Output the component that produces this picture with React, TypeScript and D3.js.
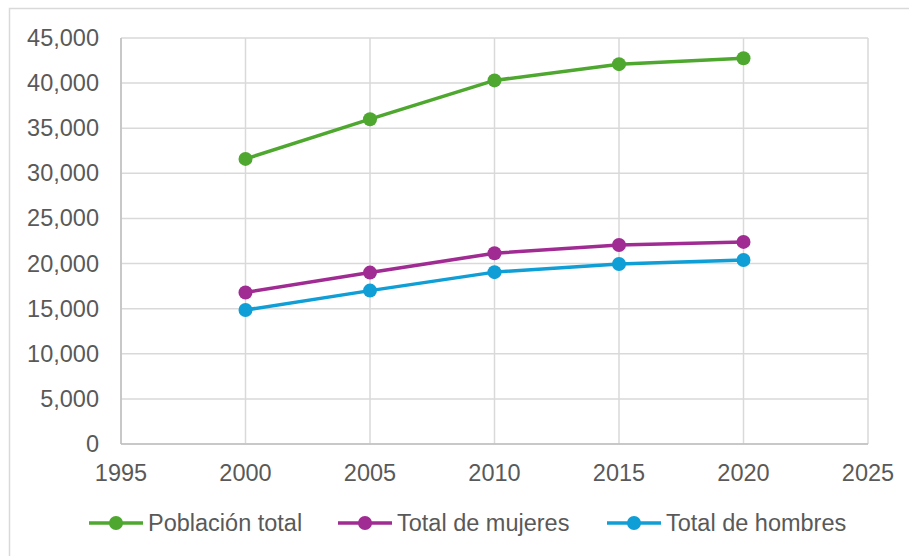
import * as d3 from "d3";

const years = [2000, 2005, 2010, 2015, 2020];
const poblacionTotal = [31600, 36000, 40300, 42100, 42750];
const totalMujeres = [16800, 19000, 21150, 22050, 22400];
const totalHombres = [14850, 17000, 19050, 19950, 20400];
const xTicks = [1995, 2000, 2005, 2010, 2015, 2020, 2025];
const yTicks = [0, 5000, 10000, 15000, 20000, 25000, 30000, 35000, 40000, 45000];

const series = [
  { name: "Población total", values: poblacionTotal, color: "#4EA72E" },
  { name: "Total de mujeres", values: totalMujeres, color: "#A02B93" },
  { name: "Total de hombres", values: totalHombres, color: "#0F9ED5" },
];

const width = 909;
const height = 556;
const margin = { top: 38, right: 41, bottom: 112, left: 121 };
const font = "'Liberation Sans', Arial, sans-serif";
const textColor = "#595959";
const fontSize = 23.5;

export default function App() {
  const boundsWidth = width - margin.left - margin.right;
  const boundsHeight = height - margin.top - margin.bottom;

  const xScale = d3.scaleLinear().domain([1995, 2025]).range([0, boundsWidth]);
  const yScale = d3.scaleLinear().domain([0, 45000]).range([boundsHeight, 0]);
  const fmt = d3.format(",");

  const line = d3
    .line<number>()
    .x((_, i) => xScale(years[i]))
    .y((d) => yScale(d));

  const legendX = [89, 338, 607];

  return (
    <svg
      width={width}
      height={height}
      style={{ position: "absolute", left: 0, top: 0, background: "white" }}
    >
      <rect x={9.5} y={8.5} width={width} height={height} fill="white" stroke="#d9d9d9" strokeWidth={1.5} />
      <g transform={`translate(${margin.left},${margin.top})`}>
        {yTicks.map((t) => (
          <line key={"gy" + t} x1={0} x2={boundsWidth} y1={yScale(t)} y2={yScale(t)} stroke="#d9d9d9" strokeWidth={1.5} />
        ))}
        {xTicks.map((t) => (
          <line key={"gx" + t} x1={xScale(t)} x2={xScale(t)} y1={0} y2={boundsHeight} stroke="#d9d9d9" strokeWidth={1.5} />
        ))}
        <line x1={0} x2={boundsWidth} y1={boundsHeight} y2={boundsHeight} stroke="#bfbfbf" strokeWidth={1.5} />
        <line x1={0} x2={0} y1={0} y2={boundsHeight} stroke="#bfbfbf" strokeWidth={1.5} />

        {yTicks.map((t) => (
          <text
            key={"ty" + t}
            x={-22}
            y={yScale(t)}
            textAnchor="end"
            dominantBaseline="central"
            fontFamily={font}
            fontSize={fontSize}
            fill={textColor}
          >
            {fmt(t)}
          </text>
        ))}
        {xTicks.map((t) => (
          <text
            key={"tx" + t}
            x={xScale(t)}
            y={boundsHeight + 29}
            textAnchor="middle"
            dominantBaseline="central"
            fontFamily={font}
            fontSize={fontSize}
            fill={textColor}
          >
            {t}
          </text>
        ))}

        {series.map((s) => (
          <g key={s.name}>
            <path d={line(s.values) ?? ""} fill="none" stroke={s.color} strokeWidth={3.5} strokeLinejoin="round" />
            {s.values.map((v, i) => (
              <circle key={i} cx={xScale(years[i])} cy={yScale(v)} r={7} fill={s.color} />
            ))}
          </g>
        ))}
      </g>

      {series.map((s, i) => (
        <g key={"lg" + s.name} transform={`translate(${legendX[i]},523)`}>
          <line x1={0} x2={54} y1={0} y2={0} stroke={s.color} strokeWidth={3.5} />
          <circle cx={27} cy={0} r={7} fill={s.color} />
          <text x={59} y={0} dominantBaseline="central" fontFamily={font} fontSize={fontSize} fill={textColor}>
            {s.name}
          </text>
        </g>
      ))}
    </svg>
  );
}
